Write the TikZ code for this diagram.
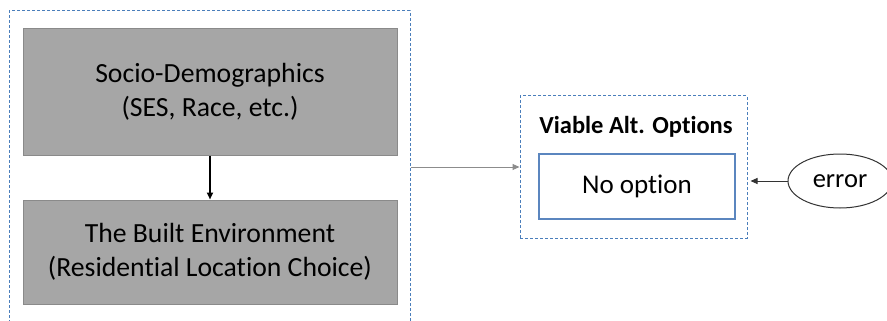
\documentclass[tikz,border=0pt]{standalone}
\usepackage{fontspec}
\setmainfont{Carlito}[Ligatures=NoCommon]
\usetikzlibrary{arrows.meta,shapes.geometric}
\definecolor{boxgray}{HTML}{A6A6A6}
\definecolor{boxedge}{HTML}{8A8A8A}
\definecolor{groupblue}{HTML}{4A7EBB}
\definecolor{innerblue}{HTML}{5B86BF}
\definecolor{linkgray}{HTML}{8C8C8C}
\begin{document}
\begin{tikzpicture}[x=1pt,y=-1pt,
  groupbox/.style={draw=groupblue,line width=1pt,dash pattern=on 3pt off 2pt,inner sep=0pt},
  graybox/.style={draw=boxedge,fill=boxgray,line width=1pt,minimum width=374pt,align=center,
    font=\fontsize{27.7}{33.5}\selectfont,inner sep=0pt},
  optbox/.style={draw=innerblue,line width=1.2pt,minimum width=196pt,minimum height=65pt,
    font=\fontsize{27}{31}\selectfont,inner sep=0pt},
  errnode/.style={draw=black!80,ellipse,line width=1pt,minimum width=104pt,minimum height=54pt,
    font=\fontsize{26.5}{30}\selectfont,inner sep=0pt},
  tip/.style={-{Triangle[length=7pt,width=6pt]}}]
\useasboundingbox (0,0) rectangle (887,321);
\clip (0,0) rectangle (887,321);

% left group and its two stacked boxes
\node[groupbox,minimum width=401pt,minimum height=329pt] (lgroup) at (209.5,175.5) {};
\node[graybox,minimum height=126pt] (sd) at (210,92) {Socio-Demographics\\(SES, Race, etc.)};
\node[graybox,minimum height=104pt] (be) at (210,252) {The Built Environment\\(Residential Location Choice)};
\draw[tip,line width=2pt,black] (sd.south) -- (be.north);

% right group with its option box
\node[groupbox,minimum width=227pt,minimum height=142pt] (rgroup) at (633.5,167) {};
\node[font=\bfseries\fontsize{24.5}{28}\selectfont] (title) at (636,127) {Viable Alt. Options};
\node[optbox] (opt) at (637,186.5) {No option};

% error term
\node[errnode] (err) at (840,181) {error};

% connectors
\draw[tip,linkgray,line width=1pt] (lgroup.east |- rgroup.west) -- (rgroup.west);
\draw[tip,black!80,line width=1pt] (err.west) -- ([xshift=3pt]rgroup.east |- err.west);
\end{tikzpicture}
\end{document}
